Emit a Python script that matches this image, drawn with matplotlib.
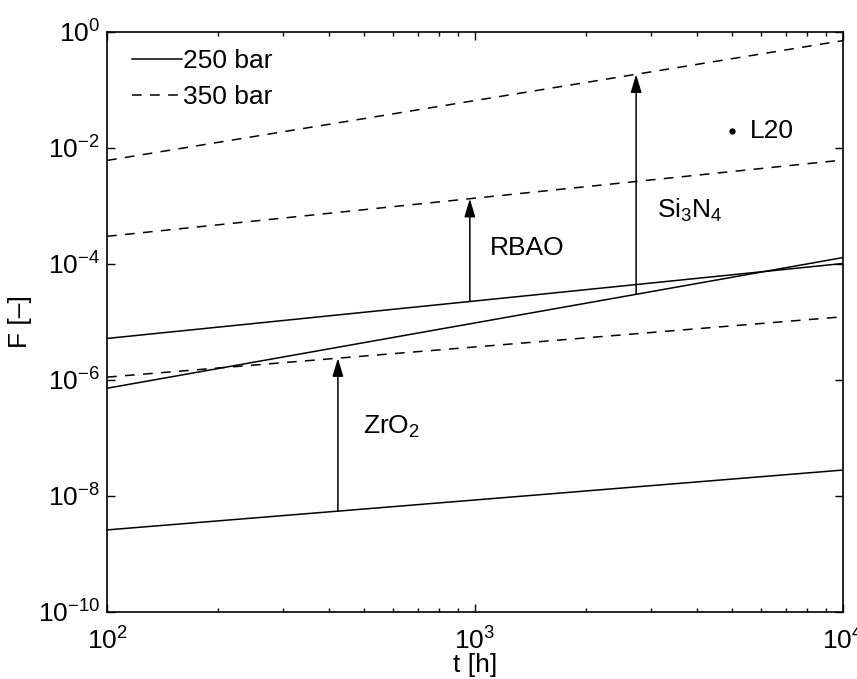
import numpy as np
import matplotlib
matplotlib.use("Agg")
import matplotlib.pyplot as plt

plt.rcParams["font.family"] = ["Liberation Sans", "DejaVu Sans"]
plt.rcParams["mathtext.fontset"] = "custom"
plt.rcParams["mathtext.rm"] = "Liberation Sans"
plt.rcParams["mathtext.it"] = "Liberation Sans"
plt.rcParams["mathtext.default"] = "regular"
plt.rcParams["lines.scale_dashes"] = False

# Time span of every curve [h]
t_span = [1e2, 1e4]

# Failure probability at the ends of the time span
zro2_250 = [2.6e-9, 2.8e-8]
zro2_350 = [1.12e-6, 1.23e-5]
rbao_250 = [5.2e-6, 1.02e-4]
rbao_350 = [3.0e-4, 6.2e-3]
si3n4_250 = [7.2e-7, 1.29e-4]
si3n4_350 = [6.1e-3, 0.71]

# Times at which the pressure-increase arrows are drawn [h]
t_arrow_zro2 = 424
t_arrow_rbao = 968
t_arrow_si3n4 = 2740

# L20 reference point
l20_t = 5000
l20_F = 0.02

fig = plt.figure(figsize=(8.57, 6.79), dpi=100)
ax = fig.add_axes([0.1249, 0.0987, 0.8588, 0.8542])

dash = (7, 6)
lw = 1.1
ax.plot(t_span, zro2_250, "k-", lw=lw, label="250 bar")
ax.plot(t_span, zro2_350, "k--", lw=lw, dashes=dash, label="350 bar")
ax.plot(t_span, rbao_250, "k-", lw=lw)
ax.plot(t_span, rbao_350, "k--", lw=lw, dashes=dash)
ax.plot(t_span, si3n4_250, "k-", lw=lw)
ax.plot(t_span, si3n4_350, "k--", lw=lw, dashes=dash)


def loglog_interp(t, ts, fs):
    """Value of a power-law line through two points at time t."""
    lt = np.log10(t)
    l0, l1 = np.log10(ts)
    f0, f1 = np.log10(fs)
    return 10 ** (f0 + (f1 - f0) * (lt - l0) / (l1 - l0))


def arrow(t, low, high):
    y0 = loglog_interp(t, t_span, low)
    y1 = loglog_interp(t, t_span, high)
    ax.annotate("", xy=(t, y1), xytext=(t, y0),
                arrowprops=dict(arrowstyle="-|>,head_length=1.0,head_width=0.3",
                                mutation_scale=11, color="k", lw=1.1,
                                shrinkA=0, shrinkB=0))


arrow(t_arrow_zro2, zro2_250, zro2_350)
arrow(t_arrow_rbao, rbao_250, rbao_350)
arrow(t_arrow_si3n4, si3n4_250, si3n4_350)

fs = 19
ax.text(1390, 1.9e-4, "RBAO", fontsize=fs, ha="center", va="center")
ax.text(3120, 8.5e-4, "Si$_3$N$_4$", fontsize=fs, ha="left", va="center")
ax.text(497, 1.55e-7, "ZrO$_2$", fontsize=fs, ha="left", va="center")

ax.plot([l20_t], [l20_F], "ko", ms=3.5)
ax.text(l20_t * 1.12, l20_F, "L20", fontsize=fs, ha="left", va="center")

ax.set_xscale("log")
ax.set_yscale("log")
ax.set_xlim(1e2, 1e4)
ax.set_ylim(1e-10, 1e0)
ax.set_yticks([1e-10, 1e-8, 1e-6, 1e-4, 1e-2, 1e0])
ax.yaxis.set_minor_locator(matplotlib.ticker.NullLocator())
ax.xaxis.set_minor_locator(matplotlib.ticker.LogLocator(base=10, subs=np.arange(2, 10)))
ax.xaxis.set_minor_formatter(matplotlib.ticker.NullFormatter())

ax.tick_params(which="both", direction="in", top=True, right=True,
               labelsize=fs, width=1.0, color="k")
ax.tick_params(which="major", length=6)
ax.tick_params(axis="x", which="major", pad=11)
ax.tick_params(axis="y", which="major", pad=5)
ax.tick_params(which="minor", length=3)
for s in ax.spines.values():
    s.set_linewidth(1.2)

ax.set_xlabel("t [h]", fontsize=fs, labelpad=-1)
ax.set_ylabel("F [–]", fontsize=fs, labelpad=4)

leg = ax.legend(loc="upper left", frameon=False, fontsize=fs,
                handlelength=1.9, handletextpad=0.05, labelspacing=0.45,
                borderaxespad=0.3, borderpad=0.35,
                bbox_to_anchor=(0.01, 1.0))

fig.savefig("out.png", dpi=100)
